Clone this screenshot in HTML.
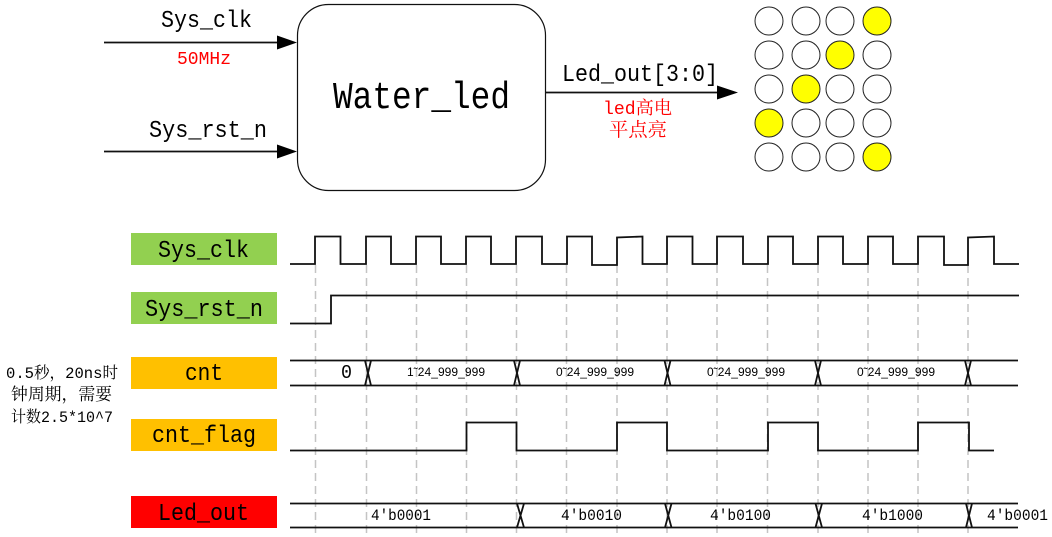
<!DOCTYPE html>
<html><head><meta charset="utf-8"><style>
html,body{margin:0;padding:0;background:#fff;width:1052px;height:537px;overflow:hidden}
svg{display:block}
text{font-family:"Liberation Mono","Noto Serif CJK SC",monospace;fill:#000}
.s{font-family:"Liberation Sans","Noto Sans CJK SC",sans-serif;font-size:12px}
.w{fill:none;stroke:#111;stroke-width:1.8}
.d{stroke:#c4c4c4;stroke-width:1.5;stroke-dasharray:8 5}
.x{fill:none;stroke:#111;stroke-width:1.8}
circle{stroke:#222;stroke-width:1;fill:#fff}
.y{fill:#ffff00}
</style></head><body>
<svg width="1052" height="537" viewBox="0 0 1052 537" xmlns="http://www.w3.org/2000/svg">
<rect x="297.5" y="4.5" width="248" height="186" rx="31" ry="31" fill="#fff" stroke="#111" stroke-width="1.2"/>
<line x1="104" y1="42.5" x2="280" y2="42.5" stroke="#111" stroke-width="1.8"/><polygon points="277,35.500 297,42.500 277,49.500"/>
<line x1="104" y1="151.5" x2="280" y2="151.5" stroke="#111" stroke-width="1.8"/><polygon points="277,144.500 297,151.500 277,158.500"/>
<line x1="545" y1="92.5" x2="720" y2="92.5" stroke="#111" stroke-width="1.8"/><polygon points="717,85.500 738,92.500 717,99.500"/>

<text x="161" y="27" font-size="24" textLength="91" lengthAdjust="spacingAndGlyphs">Sys_clk</text>
<text x="177" y="64" font-size="18" textLength="54" lengthAdjust="spacingAndGlyphs" style="fill:#f00">50MHz</text>
<text x="149" y="137" font-size="24" textLength="118" lengthAdjust="spacingAndGlyphs">Sys_rst_n</text>
<text x="333" y="108" font-size="38" textLength="177" lengthAdjust="spacingAndGlyphs">Water_led</text>
<text x="562" y="81" font-size="24" textLength="156" lengthAdjust="spacingAndGlyphs">Led_out[3:0]</text>
<text x="603" y="114" font-size="18" textLength="69" lengthAdjust="spacingAndGlyphs" style="fill:#f00">led高电</text>
<text x="609" y="136" font-size="19" textLength="58" lengthAdjust="spacingAndGlyphs" style="fill:#f00">平点亮</text>

<circle cx="769" cy="21" r="14"/><circle cx="806" cy="21" r="14"/><circle cx="840" cy="21" r="14"/><circle class="y" cx="877" cy="21" r="14"/>
<circle cx="769" cy="55" r="14"/><circle cx="806" cy="55" r="14"/><circle class="y" cx="840" cy="55" r="14"/><circle cx="877" cy="55" r="14"/>
<circle cx="769" cy="89" r="14"/><circle class="y" cx="806" cy="89" r="14"/><circle cx="840" cy="89" r="14"/><circle cx="877" cy="89" r="14"/>
<circle class="y" cx="769" cy="123" r="14"/><circle cx="806" cy="123" r="14"/><circle cx="840" cy="123" r="14"/><circle cx="877" cy="123" r="14"/>
<circle cx="769" cy="157" r="14"/><circle cx="806" cy="157" r="14"/><circle cx="840" cy="157" r="14"/><circle class="y" cx="877" cy="157" r="14"/>

<rect x="131" y="233" width="146" height="32" fill="#92d050"/>
<rect x="131" y="292" width="146" height="32" fill="#92d050"/>
<rect x="131" y="357" width="146" height="32" fill="#ffc000"/>
<rect x="131" y="419" width="146" height="32" fill="#ffc000"/>
<rect x="131" y="496" width="146" height="32" fill="#ff0000"/>
<text x="158" y="257" font-size="24" textLength="91" lengthAdjust="spacingAndGlyphs">Sys_clk</text>
<text x="145" y="316" font-size="24" textLength="118" lengthAdjust="spacingAndGlyphs">Sys_rst_n</text>
<text x="185" y="380" font-size="24" textLength="38" lengthAdjust="spacingAndGlyphs">cnt</text>
<text x="152" y="442" font-size="24" textLength="104" lengthAdjust="spacingAndGlyphs">cnt_flag</text>
<text x="158" y="520" font-size="24" textLength="91" lengthAdjust="spacingAndGlyphs">Led_out</text>

<text x="6" y="378" font-size="16" textLength="112" lengthAdjust="spacingAndGlyphs">0.5秒，20ns时</text>
<text x="11" y="400" font-size="17" textLength="101" lengthAdjust="spacingAndGlyphs">钟周期，需要</text>
<text x="11" y="422" font-size="16" textLength="102" lengthAdjust="spacingAndGlyphs">计数2.5*10^7</text>

<g class="d">
<line x1="315.5" y1="265" x2="315.5" y2="537"/><line x1="366.5" y1="265" x2="366.5" y2="537"/>
<line x1="416.5" y1="265" x2="416.5" y2="537"/><line x1="466.5" y1="265" x2="466.5" y2="537"/>
<line x1="516.5" y1="265" x2="516.5" y2="537"/><line x1="566.5" y1="265" x2="566.5" y2="537"/>
<line x1="617" y1="265" x2="617" y2="537"/><line x1="667" y1="265" x2="667" y2="537"/>
<line x1="717" y1="265" x2="717" y2="537"/><line x1="767.5" y1="265" x2="767.5" y2="537"/>
<line x1="818" y1="265" x2="818" y2="537"/><line x1="868" y1="265" x2="868" y2="537"/>
<line x1="918" y1="265" x2="918" y2="537"/><line x1="968" y1="265" x2="968" y2="537"/>
</g>

<polyline class="w" points="290,264 315,264 315,236.500 340.500,236.500 340.500,264 366,264 366,236.500 391,236.500 391,264 416,264 416,236.500 441,236.500 441,264 466,264 466,236.500 491,236.500 491,264 516,264 516,236.500 542,236.500 542,264 567,264 567,236.500 592,236.500 592,265 617,265 617,237.500 642.500,236.500 642.500,264 667,264 667,236.500 692.500,236.500 692.500,264 717,264 717,236.500 743,236.500 743,264 768,264 768,236.500 793,236.500 793,264 818,264 818,236.500 843,236.500 843,264 868,264 868,236.500 893,236.500 893,264 918,264 918,236.500 944,236.500 944,265 968,265 968,237.500 994,236.500 994,264 1019,264"/>
<polyline class="w" points="290,323.500 331,323.500 331,295.500 1019,295.500"/>
<polyline class="w" points="290,450.500 466.500,450.500 466.500,422.500 516.500,422.500 516.500,450.500 617,450.500 617,422.500 667,422.500 667,450.500 768,450.500 768,422.500 818,422.500 818,450.500 918,450.500 918,422.500 969,422.500 969,450.500 994,450.500"/>

<line class="x" x1="290" y1="360.500" x2="1018" y2="360.500"/><line class="x" x1="290" y1="385.500" x2="1018" y2="385.500"/>
<path class="x" d="M365 360.500 371 385.500M371 360.500 365 385.500M514 360.500 520 385.500M520 360.500 514 385.500M664.500 360.500 670.500 385.500M670.500 360.500 664.500 385.500M815 360.500 821 385.500M821 360.500 815 385.500M965 360.500 971 385.500M971 360.500 965 385.500"/>
<line class="x" x1="290" y1="503.500" x2="1018" y2="503.500"/><line class="x" x1="290" y1="527.500" x2="1018" y2="527.500"/>
<path class="x" d="M517 503.500 524 527.500M524 503.500 517 527.500M665 503.500 671.500 527.500M671.500 503.500 665 527.500M815.500 503.500 822 527.500M822 503.500 815.500 527.500M966 503.500 972 527.500M972 503.500 966 527.500"/>

<text x="341" y="378" font-size="19" textLength="11" lengthAdjust="spacingAndGlyphs">0</text>
<text class="s" x="407" y="376" textLength="78">1˜24_999_999</text>
<text class="s" x="556" y="376" textLength="78">0˜24_999_999</text>
<text class="s" x="707" y="376" textLength="78">0˜24_999_999</text>
<text class="s" x="857" y="376" textLength="78">0˜24_999_999</text>
<text x="371" y="520" font-size="16" textLength="60" lengthAdjust="spacingAndGlyphs">4'b0001</text>
<text x="561" y="520" font-size="16" textLength="61" lengthAdjust="spacingAndGlyphs">4'b0010</text>
<text x="710" y="520" font-size="16" textLength="61" lengthAdjust="spacingAndGlyphs">4'b0100</text>
<text x="862" y="520" font-size="16" textLength="61" lengthAdjust="spacingAndGlyphs">4'b1000</text>
<text x="987" y="520" font-size="16" textLength="61" lengthAdjust="spacingAndGlyphs">4'b0001</text>
</svg>
</body></html>
